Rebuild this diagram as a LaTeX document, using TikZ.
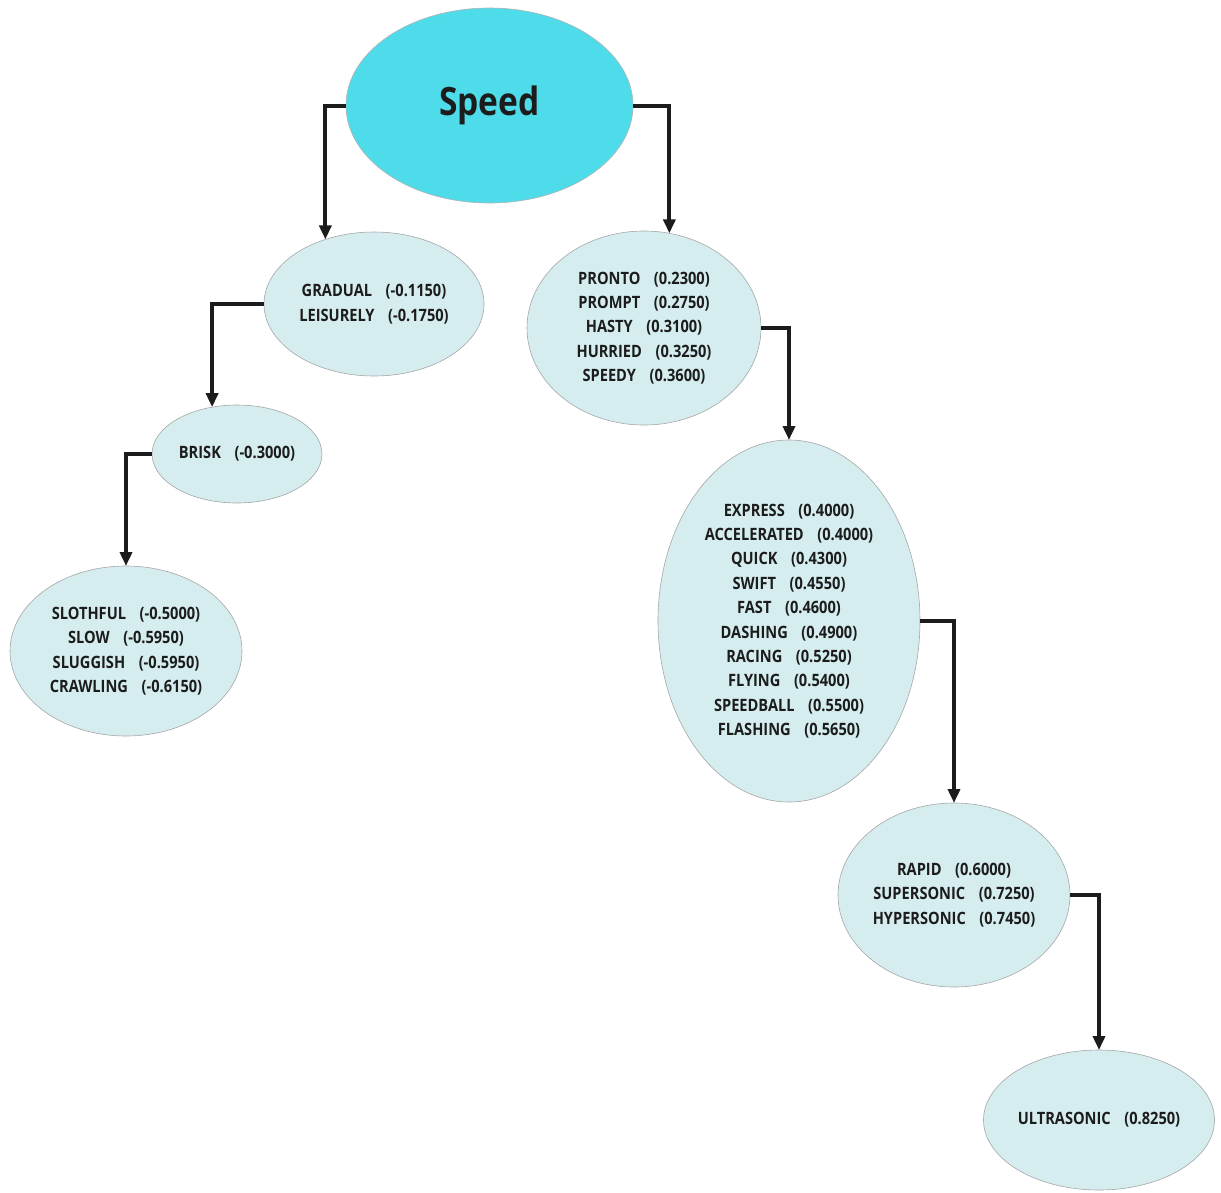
\documentclass[tikz,border=0pt]{standalone}
\usepackage{fontspec}
\setmainfont{Open Sans}[FakeStretch=0.86]
\usetikzlibrary{shapes.geometric,arrows.meta}

\definecolor{rootcyan}{HTML}{4EDCEA}
\definecolor{wordfill}{HTML}{D5EDEF}
\definecolor{inkgray}{HTML}{1C1C1C}

% word with its score
\newcommand{\wv}[2]{#1\hspace{0.8em}(#2)}

\tikzset{
  wordset/.style={ellipse, draw=gray!70, line width=0.6pt, fill=wordfill,
    inner sep=0pt, outer sep=0pt, align=center, text=inkgray,
    font=\fontsize{17}{24.4}\selectfont\bfseries},
  link/.style={line width=4pt, draw=inkgray,
    -{Triangle[length=14pt,width=12pt]}}
}

\begin{document}
\begin{tikzpicture}[x=1pt,y=-1pt]
\useasboundingbox (0,0) rectangle (1221,1192);

\node[ellipse, fill=rootcyan, draw=gray!60, line width=0.6pt, inner sep=0pt,
  minimum width=287pt, minimum height=195pt, text=inkgray,
  font=\fontsize{39}{44}\selectfont\bfseries] (speed) at (489.5,105.5) {Speed};

\node[wordset, minimum width=220pt, minimum height=144pt] (gradual) at (374,304)
  {\wv{GRADUAL}{-0.1150}\\ \wv{LEISURELY}{-0.1750}};
\node[wordset, minimum width=234pt, minimum height=194pt] (pronto) at (644,328)
  {\wv{PRONTO}{0.2300}\\ \wv{PROMPT}{0.2750}\\ \wv{HASTY}{0.3100}\\
   \wv{HURRIED}{0.3250}\\ \wv{SPEEDY}{0.3600}};
\node[wordset, minimum width=170pt, minimum height=98pt] (brisk) at (237,454)
  {\wv{BRISK}{-0.3000}};
\node[wordset, minimum width=232pt, minimum height=170pt] (slothful) at (126,651)
  {\wv{SLOTHFUL}{-0.5000}\\ \wv{SLOW}{-0.5950}\\ \wv{SLUGGISH}{-0.5950}\\
   \wv{CRAWLING}{-0.6150}};
\node[wordset, minimum width=262pt, minimum height=362pt] (express) at (789,621)
  {\wv{EXPRESS}{0.4000}\\ \wv{ACCELERATED}{0.4000}\\ \wv{QUICK}{0.4300}\\
   \wv{SWIFT}{0.4550}\\ \wv{FAST}{0.4600}\\ \wv{DASHING}{0.4900}\\
   \wv{RACING}{0.5250}\\ \wv{FLYING}{0.5400}\\ \wv{SPEEDBALL}{0.5500}\\
   \wv{FLASHING}{0.5650}};
\node[wordset, minimum width=232pt, minimum height=184pt] (rapid) at (954,895)
  {\wv{RAPID}{0.6000}\\ \wv{SUPERSONIC}{0.7250}\\ \wv{HYPERSONIC}{0.7450}};
\node[wordset, minimum width=231pt, minimum height=140pt] (ultrasonic) at (1099,1120)
  {\wv{ULTRASONIC}{0.8250}};

% elbow connectors
\draw[link] (speed.west) -| (gradual.127);
\draw[link] (speed.east) -| (pronto.75);
\draw[link] (gradual.west) -| (brisk.118);
\draw[link] (brisk.west) -| (slothful.north);
\draw[link] (pronto.east) -| (express.north);
\draw[link] (express.east) -| (rapid.north);
\draw[link] (rapid.east) -| (ultrasonic.north);
\end{tikzpicture}
\end{document}
